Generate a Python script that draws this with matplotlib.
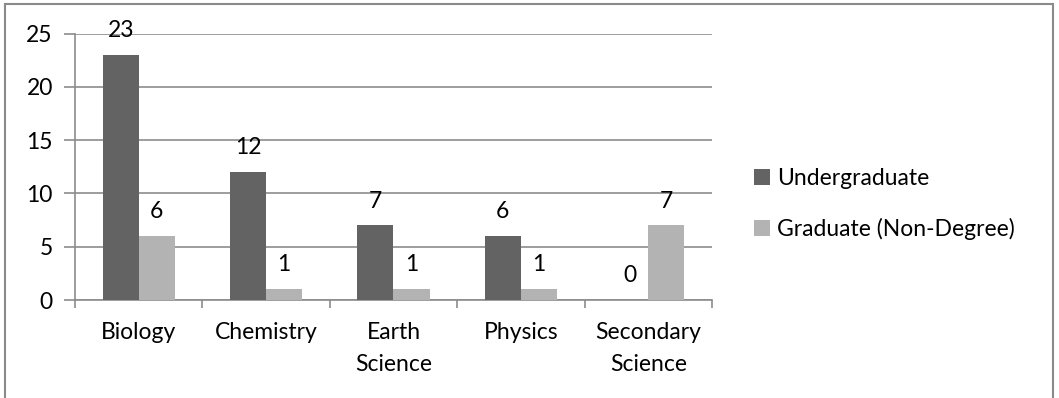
import numpy as np
import matplotlib.pyplot as plt
from matplotlib.patches import Rectangle

# Enrollment counts by program
categories = ["Biology", "Chemistry", "Earth\nScience", "Physics", "Secondary\nScience"]
undergrad = [23, 12, 7, 6, 0]
graduate = [6, 1, 1, 1, 7]
series_names = ["Undergraduate", "Graduate (Non-Degree)"]

dark = "#636363"
light = "#b3b3b3"
grid_c = "#8c8c8c"
fs = 16.5

plt.rcParams["font.family"] = ["Lato", "DejaVu Sans"]

fig = plt.figure(figsize=(10.59, 3.98), dpi=100)
ax = fig.add_axes([0.0708, 0.2462, 0.6015, 0.6696])

x = np.arange(len(categories))
w = 0.283
b1 = ax.bar(x - w / 2, undergrad, w, color=dark, label=series_names[0], zorder=3)
b2 = ax.bar(x + w / 2, graduate, w, color=light, label=series_names[1], zorder=3)

# value labels above each bar
for bars, vals in ((b1, undergrad), (b2, graduate)):
    for r, v in zip(bars, vals):
        ax.annotate(str(v), (r.get_x() + r.get_width() / 2, v),
                    xytext=(0, 10), textcoords="offset points",
                    ha="center", va="bottom", fontsize=fs, color="black",
                    annotation_clip=False, zorder=4)

ax.set_xlim(-0.5, len(categories) - 0.5)
ax.set_ylim(0, 25)
ax.set_yticks(range(0, 26, 5))
ax.yaxis.grid(True, color=grid_c, linewidth=1.2, zorder=0)

ax.set_xticks(x)
ax.set_xticklabels(categories, fontsize=fs, linespacing=1.65)
ax.set_xticks(np.arange(-0.5, len(categories)), minor=True)
ax.tick_params(axis="x", which="major", length=0, pad=16)
ax.tick_params(axis="x", which="minor", length=6, color=grid_c, width=1.2)
ax.tick_params(axis="y", length=8, color=grid_c, width=1.2, labelsize=fs, pad=8)

for s in ("top", "right"):
    ax.spines[s].set_visible(False)
for s in ("left", "bottom"):
    ax.spines[s].set_color(grid_c)
    ax.spines[s].set_linewidth(1.2)

fig.legend(handles=[b1, b2], loc="upper left", bbox_to_anchor=(0.712, 0.577),
           frameon=False, fontsize=fs, handlelength=0.7, handleheight=0.7,
           handletextpad=0.3, labelspacing=1.25, borderpad=0, borderaxespad=0)

# outer chart border
fig.patches.append(Rectangle((5 / 1059, -0.05), 1048 / 1059, 1.05 - 4 / 398,
                             transform=fig.transFigure, fill=False,
                             edgecolor="#8a8a8a", linewidth=1.5))

fig.savefig("out.png", dpi=100)
